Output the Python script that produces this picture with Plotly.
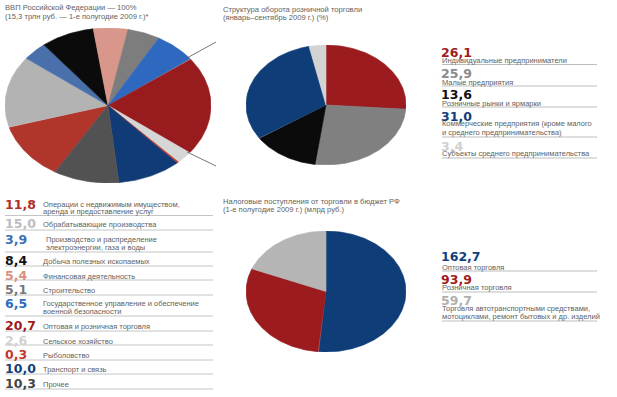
import numpy as np
import plotly.graph_objects as go

W, H = 617, 397

# ---------------- data ----------------
gdp_labels = [
    "Операции с недвижимым имуществом,\nаренда и предоставление услуг",
    "Обрабатывающие производства",
    "Производство и распределение\nэлектроэнергии, газа и воды",
    "Добыча полезных ископаемых",
    "Финансовая деятельность",
    "Строительство",
    "Государственное управление и обеспечение\nвоенной безопасности",
    "Оптовая и розничная торговля",
    "Сельское хозяйство",
    "Рыболовство",
    "Транспорт и связь",
    "Прочее",
]
gdp_values = [11.8, 15.0, 3.9, 8.4, 5.4, 5.1, 6.5, 20.7, 2.6, 0.3, 10.0, 10.3]

retail_labels = [
    "Индивидуальные предприниматели",
    "Малые предприятия",
    "Розничные рынки и ярмарки",
    "Коммерческие предприятия (кроме малого\nи среднего предпринимательства)",
    "Субъекты среднего предпринимательства",
]
retail_values = [26.1, 25.9, 13.6, 31.0, 3.4]

tax_labels = [
    "Оптовая торговля",
    "Розничная торговля",
    "Торговля автотранспортными средствами,\nмотоциклами, ремонт бытовых и др. изделий",
]
tax_values = [162.7, 93.9, 59.7]

gdp_title = ["ВВП Российской Федерации — 100%", "(15,3 трлн руб. — 1-е полугодие 2009 г.)*"]
retail_title = ["Структура оборота розничной торговли", "(январь–сентябрь 2009 г.) (%)"]
tax_title = ["Налоговые поступления от торговли в бюджет РФ", "(1-е полугодие 2009 г.) (млрд руб.)"]

# ---------------- styles ----------------
gdp_colors = ["#b0362c", "#b3b3b3", "#4a70ab", "#0b0b0b", "#d9968a", "#7d7d7d",
              "#2f69bf", "#981b1e", "#d6d6d6", "#c23b2e", "#113b76", "#525252"]
gdp_text_colors = ["#b0302a", "#bdbdbd", "#3b6fb6", "#111111", "#d9907f", "#777777",
                   "#2e6cc0", "#9e1c1c", "#d2d2d2", "#c0392b", "#123e7c", "#444444"]
retail_colors = ["#9c1b1e", "#808080", "#0b0b0b", "#0f3d78", "#d3d3d3"]
retail_text_colors = ["#a01c1c", "#8a8a8a", "#111111", "#123e7c", "#d0d0d0"]
tax_colors = ["#0f3d78", "#9c1b1e", "#b5b5b5"]
tax_text_colors = ["#123e7c", "#a01c1c", "#b0b0b0"]

TXT = "#626262"
NUM_FONT = "DejaVu Sans"
LBL_FONT = "Liberation Sans"
NUM_SIZE = 12.5
LBL_SIZE = 7.5


def px(x):
    return x / W


def py(y):
    return 1 - y / H


fig = go.Figure()


def add_pie(values, colors, rotation, axis_id, box):
    """Draw pie wedges on their own unit axes; the axes' domain stretches them."""
    vals = np.array(values, dtype=float)
    frac = vals / vals.sum()
    start = rotation + 360 * np.concatenate([[0], np.cumsum(frac)[:-1]])
    suffix = "" if axis_id == 1 else str(axis_id)
    for a0, f, c in zip(start, frac, colors):
        a1 = a0 + f * 360
        n = max(3, int(np.ceil(f * 360 / 0.5)))
        th = np.radians(np.linspace(a0, a1, n))
        xs = np.concatenate([[0], np.sin(th), [0]])
        ys = np.concatenate([[0], np.cos(th), [0]])
        fig.add_trace(go.Scatter(x=xs, y=ys, mode="lines", fill="toself",
                                 fillcolor=c, line=dict(color=c, width=0.6),
                                 hoverinfo="skip", showlegend=False,
                                 xaxis="x" + suffix, yaxis="y" + suffix))
    x0, x1, y0, y1 = box
    ax = dict(range=[-1, 1], visible=False, fixedrange=True,
              domain=[px(x0), px(x1)])
    ay = dict(range=[-1, 1], visible=False, fixedrange=True,
              domain=[py(y1), py(y0)])
    fig.update_layout(**{"xaxis" + suffix: dict(ax, anchor="y" + suffix),
                         "yaxis" + suffix: dict(ay, anchor="x" + suffix)})


add_pie(gdp_values, gdp_colors, 211, 1, (5, 211, 28, 183))
add_pie(retail_values, retail_colors, 0, 2, (246, 406, 45, 165))
add_pie(tax_values, tax_colors, 0, 3, (246, 406, 231, 352))

annotations = []
shapes = []


def text(x, y, s, size, color, family=LBL_FONT, bold=False):
    annotations.append(dict(
        x=px(x), y=py(y), xref="paper", yref="paper", xanchor="left",
        yanchor="middle", showarrow=False, borderpad=0,
        text=("<b>%s</b>" % s) if bold else s,
        font=dict(size=size, color=color, family=family)))


def hline(x0, x1, y, color="#c4c4c4", w=1):
    shapes.append(dict(type="line", xref="paper", yref="paper",
                       x0=px(x0), x1=px(x1), y0=py(y), y1=py(y),
                       line=dict(color=color, width=w)))


def fmt(v):
    return ("%.1f" % v).replace(".", ",")


# titles
for title, (tx, ty) in [(gdp_title, (4, 8)), (retail_title, (222, 9)), (tax_title, (222, 201))]:
    for i, line in enumerate(title):
        text(tx, ty + i * 8, line, 7.6, TXT)

# left legend (GDP)
left_num_y = [204, 223, 239, 260, 275, 289, 303, 325, 340, 354, 368, 383]
left_sep_y = [215.5, 230, 252, 266, 280, 295, 316, 331, 345, 360, 374, 389]
for i, (lab, v) in enumerate(zip(gdp_labels, gdp_values)):
    text(4, left_num_y[i], fmt(v), NUM_SIZE, gdp_text_colors[i], NUM_FONT, True)
    lines = lab.split("\n")
    lx = 45 if len(lines) > 1 and i == 2 else 42
    ly0 = left_num_y[i] + (0.5 if len(lines) > 1 else 1.5)
    for k, ln in enumerate(lines):
        text(lx, ly0 + k * 7.5, ln, LBL_SIZE, TXT)
    hline(5, 213, left_sep_y[i])

# right legend (retail)
r_num_y = [52, 73.5, 95, 116, 146]
r_lbl_y = [60.5, 82, 103, 123.5, 153.5]
r_sep_y = [64.5, 86, 107, 137, 158]
for i, (lab, v) in enumerate(zip(retail_labels, retail_values)):
    text(440, r_num_y[i], fmt(v), NUM_SIZE, retail_text_colors[i], NUM_FONT, True)
    for k, ln in enumerate(lab.split("\n")):
        text(441, r_lbl_y[i] + k * 9, ln, LBL_SIZE, TXT)
    hline(442, 597, r_sep_y[i], "#bdbdbd")

# right legend (tax)
t_num_y = [256, 279, 300]
t_lbl_y = [267, 287.5, 308.5]
t_sep_y = [271, 292, 321]
for i, (lab, v) in enumerate(zip(tax_labels, tax_values)):
    text(440, t_num_y[i], fmt(v), NUM_SIZE, tax_text_colors[i], NUM_FONT, True)
    for k, ln in enumerate(lab.split("\n")):
        text(441, t_lbl_y[i] + k * 8, ln, LBL_SIZE, TXT)
    hline(442, 597, t_sep_y[i], "#bdbdbd")

# connector lines from GDP trade slice towards the retail pie
for (x0, y0, x1, y1) in [(187, 58, 216, 42), (187, 152, 216, 166)]:
    shapes.append(dict(type="line", xref="paper", yref="paper",
                       x0=px(x0), y0=py(y0), x1=px(x1), y1=py(y1),
                       line=dict(color="#555555", width=0.8)))

fig.update_layout(
    width=W, height=H,
    margin=dict(l=0, r=0, t=0, b=0),
    paper_bgcolor="white", plot_bgcolor="white",
    showlegend=False,
    annotations=annotations,
    shapes=shapes,
)

fig.write_html(
    "out.html",
    config={"displayModeBar": False},
    post_script="document.body.style.margin='0';document.body.style.overflow='hidden';",
)
